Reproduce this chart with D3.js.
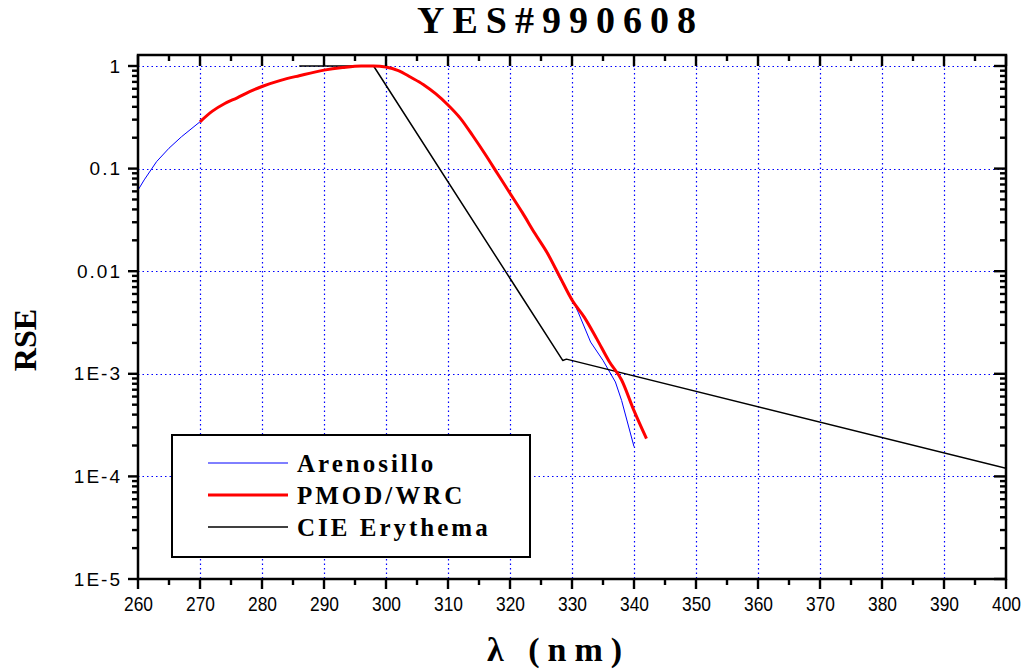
<!DOCTYPE html>
<html>
<head>
<meta charset="utf-8">
<script src="https://cdn.jsdelivr.net/npm/d3@7"></script>
<style>
  html, body { margin: 0; padding: 0; background: #fff; }
  svg { display: block; }
</style>
</head>
<body>
<div class="rseChart"></div>
<script>
// wavelengths (nm) and relative spectral response
const arenosilloNm = [260, 261, 263, 265, 267, 270, 272, 274, 276, 278, 280, 283, 286, 290, 293, 296, 298, 300, 302, 304, 306, 308, 310, 312, 314, 316, 318, 320, 322, 324, 326, 328, 330, 331, 333, 335, 337, 338, 340]
const arenosilloRse = [0.0617, 0.0776, 0.117, 0.158, 0.204, 0.286, 0.363, 0.431, 0.49, 0.562, 0.631, 0.724, 0.804, 0.912, 0.966, 1.0, 1.0, 0.977, 0.902, 0.776, 0.661, 0.537, 0.417, 0.309, 0.209, 0.138, 0.0891, 0.0575, 0.0372, 0.0234, 0.0151, 0.00851, 0.00537, 0.00398, 0.00204, 0.00135, 0.000832, 0.00055, 0.000195]

const pmodNm = [270, 272, 274, 276, 278, 280, 283, 286, 290, 293, 296, 298, 300, 302, 304, 306, 308, 310, 312, 314, 316, 318, 320, 322, 324, 326, 328, 330, 332, 334, 336, 338, 340, 342]
const pmodRse = [0.286, 0.363, 0.431, 0.49, 0.562, 0.631, 0.724, 0.804, 0.912, 0.966, 1.0, 1.0, 0.977, 0.902, 0.776, 0.661, 0.537, 0.417, 0.309, 0.209, 0.138, 0.0891, 0.0575, 0.0372, 0.0234, 0.0151, 0.00891, 0.00525, 0.00355, 0.00219, 0.00132, 0.000871, 0.000437, 0.000234]

const cieNm = [286, 298, 328.5, 329.1, 400]
const cieRse = [1.0, 1.0, 0.00135, 0.00139, 0.00012]

const xTicks = [260, 270, 280, 290, 300, 310, 320, 330, 340, 350, 360, 370, 380, 390, 400]
const xMinorTicks = [265, 275, 285, 295, 305, 315, 325, 335, 345, 355, 365, 375, 385, 395]
const yTicks = [1e-5, 1e-4, 1e-3, 0.01, 0.1, 1]
const yTickLabels = ["1E-5", "1E-4", "1E-3", "0.01", "0.1", "1"]
const yMinorSteps = [2, 3, 4, 5, 6, 7, 8, 9]

const legendNames = ["Arenosillo", "PMOD/WRC", "CIE Erythema"]
const legendColors = ["#0000ff", "#ff0000", "#000000"]
const legendWidths = [1, 3, 1.5]

const width = 1029
const height = 670
const margin = { top: 55, right: 23, bottom: 91, left: 138 }

const svg = d3.select(".rseChart").append("svg").attr("width", width).attr("height", height)

const xScale = d3.scaleLinear().domain([260, 400]).range([margin.left, width - margin.right])
const yScale = d3.scaleLog().domain([1e-5, 1.28]).range([height - margin.bottom, margin.top])

const x0 = xScale.range()[0], x1 = xScale.range()[1]
const yB = yScale.range()[0], yT = yScale.range()[1]

svg.append("defs").append("clipPath").attr("id", "plotClip")
  .append("rect").attr("x", x0).attr("y", yT).attr("width", x1 - x0).attr("height", yB - yT)

// dotted blue grid
const grid = svg.append("g").attr("stroke", "#0000ff").attr("stroke-width", 1.2).attr("stroke-dasharray", "1.5,3")
grid.selectAll(".vg").data(xTicks.slice(1, -1)).enter().append("line")
  .attr("x1", d => Math.round(xScale(d)) + 0.5).attr("x2", d => Math.round(xScale(d)) + 0.5)
  .attr("y1", yT).attr("y2", yB)
grid.selectAll(".hg").data(yTicks.slice(1)).enter().append("line")
  .attr("x1", x0).attr("x2", x1)
  .attr("y1", d => Math.round(yScale(d)) + 0.5).attr("y2", d => Math.round(yScale(d)) + 0.5)

const yMinor = []
yTicks.forEach(dec => yMinorSteps.forEach(k => { if (dec * k <= yScale.domain()[1]) yMinor.push(dec * k) }))

const tickFont = "'Liberation Sans', Arial, sans-serif"

// bottom axis labels
const xAxis = d3.axisBottom(xScale).tickValues(xTicks).tickSize(10).tickPadding(7).tickFormat(d3.format("d"))
const gx = svg.append("g").attr("transform", `translate(0, ${yB})`).call(xAxis)
gx.selectAll("line").remove()
gx.selectAll("text").attr("font-family", tickFont).attr("font-size", 21).attr("fill", "#000")
  .attr("textLength", 29).attr("lengthAdjust", "spacingAndGlyphs")

// left axis labels
const yAxis = d3.axisLeft(yScale).tickValues(yTicks).tickSize(10).tickPadding(6)
  .tickFormat((d, i) => yTickLabels[i])
const gy = svg.append("g").attr("transform", `translate(${x0}, 0)`).call(yAxis)
gy.selectAll("line").remove()
gy.selectAll("text").attr("font-family", tickFont).attr("font-size", 19).attr("letter-spacing", 2).attr("fill", "#000")

svg.selectAll(".domain").remove()

// series
const series = [
  { nm: arenosilloNm, rse: arenosilloRse, color: legendColors[0], w: legendWidths[0], curve: d3.curveLinear },
  { nm: cieNm, rse: cieRse, color: legendColors[2], w: legendWidths[2], curve: d3.curveLinear },
  { nm: pmodNm, rse: pmodRse, color: legendColors[1], w: legendWidths[1], curve: d3.curveMonotoneX }
]
const plot = svg.append("g").attr("clip-path", "url(#plotClip)")
series.forEach(s => {
  const line = d3.line().x(d => xScale(d[0])).y(d => yScale(d[1])).curve(s.curve)
  plot.append("path")
    .datum(s.nm.map((n, i) => [n, s.rse[i]]))
    .attr("fill", "none")
    .attr("stroke", s.color)
    .attr("stroke-width", s.w)
    .attr("stroke-linejoin", "round")
    .attr("d", line)
})

// legend
const serif = "'Liberation Serif', 'Times New Roman', serif"
const legend = svg.append("g")
legend.append("rect").attr("x", 172).attr("y", 435).attr("width", 358).attr("height", 122)
  .attr("fill", "#fff").attr("stroke", "#000").attr("stroke-width", 2)
legendNames.forEach((name, i) => {
  const ly = 463 + i * 32
  legend.append("line").attr("x1", 208).attr("x2", 288).attr("y1", ly).attr("y2", ly)
    .attr("stroke", legendColors[i]).attr("stroke-width", legendWidths[i])
  legend.append("text").attr("x", 297).attr("y", ly + 9).text(name)
    .attr("font-family", serif).attr("font-weight", "bold")
    .attr("font-size", 25).attr("letter-spacing", 3)
})

// titles
svg.append("text").attr("x", 417).attr("y", 33).text("YES#990608")
  .attr("font-family", serif).attr("font-weight", "bold").attr("font-size", 38).attr("letter-spacing", 8)

svg.append("text").attr("transform", "translate(36, 340) rotate(-90)").attr("text-anchor", "middle").text("RSE")
  .attr("font-family", serif).attr("font-weight", "bold").attr("font-size", 32)

svg.append("text").attr("x", 487).attr("y", 661).text("λ (nm)")
  .attr("font-family", serif).attr("font-weight", "bold").attr("font-size", 34).attr("letter-spacing", 8)

// frame
svg.append("rect").attr("x", x0).attr("y", yT).attr("width", x1 - x0).attr("height", yB - yT)
  .attr("fill", "none").attr("stroke", "#000").attr("stroke-width", 2.5)

// tick marks as small filled rects
const tickRects = (vals, pos, len, vertical) => {
  const t = 2.4
  svg.append("g").selectAll("rect").data(vals).enter().append("rect")
    .attr("x", d => vertical ? xScale(d) - t / 2 : Math.min(pos, pos + len))
    .attr("y", d => vertical ? Math.min(pos, pos + len) : yScale(d) - t / 2)
    .attr("width", vertical ? t : Math.abs(len))
    .attr("height", vertical ? Math.abs(len) : t)
    .attr("fill", "#000")
}
tickRects(xTicks, yB, 10, true)
tickRects(xMinorTicks, yB, 6, true)
tickRects(xTicks, yT, 11, true)
tickRects(xMinorTicks, yT, 6, true)
tickRects(yTicks, x0, -10, false)
tickRects(yMinor, x0, -6, false)
tickRects(yTicks, x1, -12, false)
tickRects(yMinor, x1, -6, false)
</script>
</body>
</html>
